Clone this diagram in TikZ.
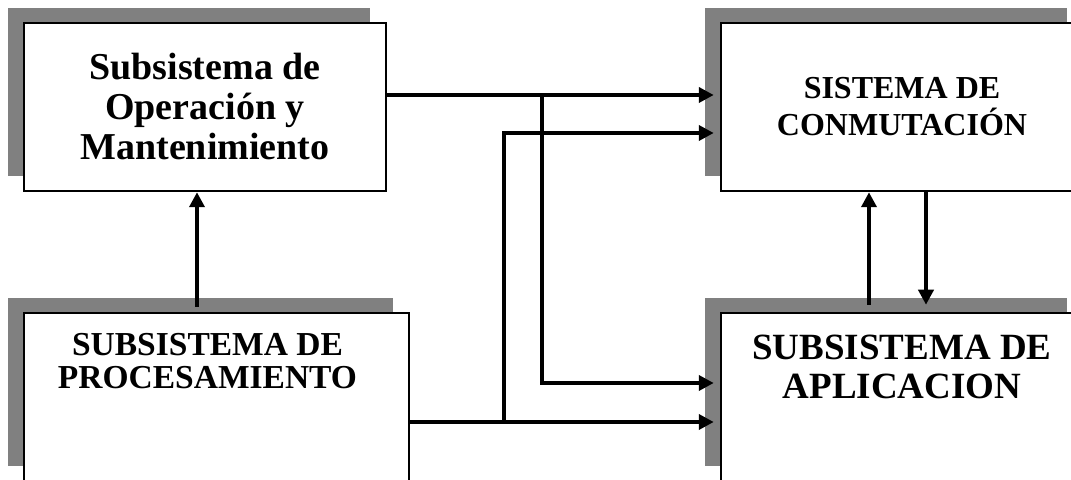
\documentclass[tikz,border=0pt]{standalone}
\usepackage{fontspec}
\setmainfont{Liberation Serif}
\usetikzlibrary{arrows.meta, positioning, shadows}

\begin{document}
\begin{tikzpicture}[x=0.5pt, y=-0.5pt, font=\bfseries,
  blk/.style={draw, line width=1.25pt, fill=white, minimum height=84pt, inner sep=0pt, align=center,
    drop shadow={shadow xshift=-8pt, shadow yshift=7.5pt, fill=gray, opacity=1}},
  lbl/.style={anchor=north, inner sep=0pt, align=center},
  conn/.style={line width=2.4pt, -{Triangle[length=7.5pt, width=7.5pt]}}]
\useasboundingbox (0,0) rectangle (1071,480);
\clip (0,0) rectangle (1071,480);
% blocks
\node[blk, minimum width=181pt, font=\fontsize{19}{20}\selectfont\bfseries] (om) at (205,107) {Subsistema de\\Operación y\\Mantenimiento};
\node[blk, minimum width=181pt, font=\fontsize{16}{18.5}\selectfont\bfseries] (conm) at (902,107) {SISTEMA DE\\CONMUTACIÓN};
\node[blk, minimum width=192.5pt] (proc) at (216.5,397) {};
\node[blk, minimum width=181pt] (apl) at (902,397) {};
\node[lbl, font=\fontsize{16.75}{16.5}\selectfont\bfseries] (proctext) at ([xshift=-4.5pt, yshift=-10.5pt]proc.north) {SUBSISTEMA DE\\PROCESAMIENTO};
\node[lbl, font=\fontsize{18.5}{19.5}\selectfont\bfseries] (apltext) at ([yshift=-11.5pt]apl.north) {SUBSISTEMA DE\\APLICACION};
% branch points
\coordinate (s1) at (542,95);
\coordinate (s2) at (504,422);
\coordinate (p1) at (197,307);
% connectors
\draw[conn] (p1) -- (p1 |- om.south);
\draw[conn, shorten >=3pt] ([yshift=6pt]om.east) -- ([yshift=6pt]conm.west);
\draw[conn, shorten >=3pt] (s1) |- ([yshift=7pt]apl.west);
\draw[conn, shorten >=3pt] ([yshift=-12.5pt]proc.east) -- ([yshift=-12.5pt]apl.west);
\draw[conn, shorten >=3pt] (s2) |- ([yshift=-13pt]conm.west);
\draw[conn] ([xshift=-16.5pt, yshift=3.5pt]apl.north) -- ([xshift=-16.5pt]conm.south);
\draw[conn, shorten >=3.5pt] ([xshift=12pt]conm.south) -- ([xshift=12pt]apl.north);
\end{tikzpicture}
\end{document}
